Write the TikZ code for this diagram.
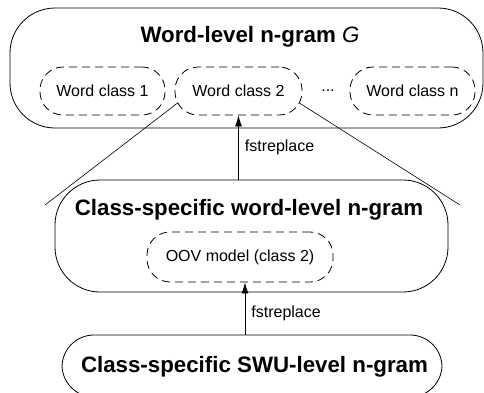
\documentclass[tikz,border=0pt]{standalone}
\usepackage{fontspec}
\setmainfont{Liberation Sans}
\usetikzlibrary{positioning,arrows.meta,calc}

\begin{document}
\begin{tikzpicture}[
    x=1pt, y=-1pt,
    font=\fontsize{16}{18}\selectfont,
    model/.style={draw, line width=0.8pt, rounded corners=45pt, inner sep=0pt},
    cls/.style={draw, dashed, dash pattern=on 8pt off 5pt, line width=0.8pt, rounded corners=23pt, minimum height=48pt, inner sep=0pt},
    ttl/.style={font=\fontsize{22.3}{25}\selectfont\bfseries, inner sep=0pt},
    arr/.style={-{Latex[length=11pt, width=7pt]}, line width=0.8pt},
    lbl/.style={anchor=west, inner sep=0pt}
]
\useasboundingbox (0,0) rectangle (484,392);

% word-level n-gram
\node[model, minimum width=473pt, minimum height=120pt] (wng) at (246.5,68) {};
\node[ttl] (wngt) at (250,37) {Word-level n-gram \textit{\mdseries G}};
\node[cls, minimum width=125pt] (wc1) at (102.5,91) {Word class 1};
\node[cls, minimum width=127pt] (wc2) at (238.5,91) {Word class 2};
\node[inner sep=0pt] (dots) at (328,91) {...};
\node[cls, minimum width=125pt] (wcn) at (412.5,91) {Word class n};

% class-specific word-level n-gram
\node[model, minimum width=393pt, minimum height=112pt] (cwng) at (251.5,236) {};
\node[ttl] (cwngt) at (249,210) {Class-specific word-level n-gram};
\node[cls, minimum width=186pt, minimum height=50pt] (oov) at (240,257) {OOV model (class 2)};

% class-specific SWU-level n-gram
\node[model, rounded corners=32pt, minimum width=380pt, minimum height=62pt] (cswu) at (252,366) {};
\node[ttl] (cswut) at (254.5,367) {Class-specific SWU-level n-gram};

% zoom lines
\coordinate (zl) at (45,205);
\coordinate (zr) at (460,205);
\draw[line width=0.6pt] ([xshift=3pt,yshift=-12pt]wc2.west) -- (zl);
\draw[line width=0.6pt] ([xshift=-3pt,yshift=-12pt]wc2.east) -- (zr);

\draw[arr] (wc2.south |- cwng.north) -- (wc2.south) node[lbl, pos=0.5, xshift=6pt] {fstreplace};
\draw[arr] ([xshift=5pt]oov.south |- cswu.north) -- ([xshift=5pt]oov.south) node[lbl, pos=0.4, xshift=6pt] {fstreplace};
\end{tikzpicture}
\end{document}
